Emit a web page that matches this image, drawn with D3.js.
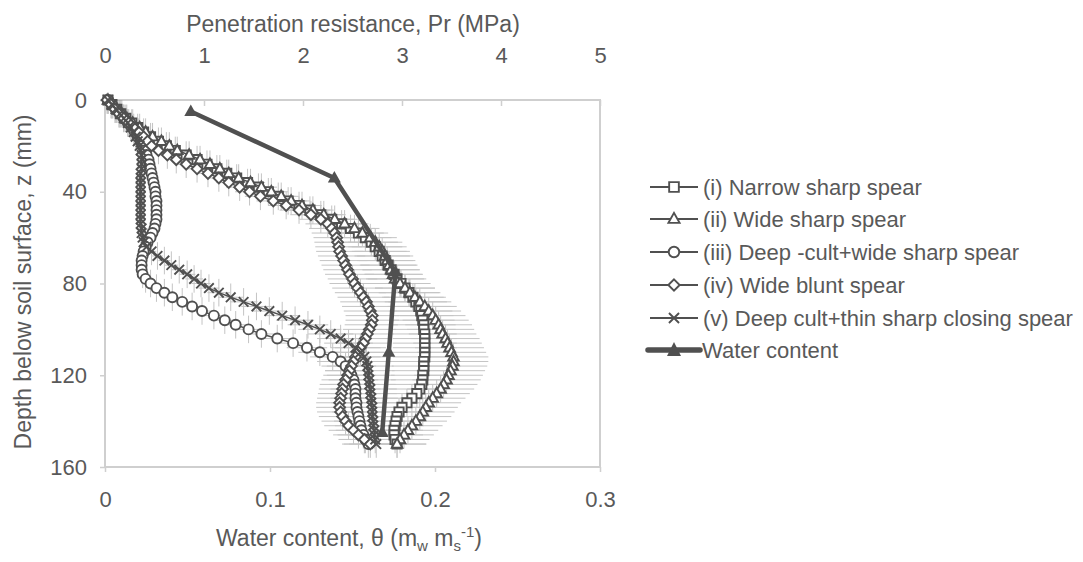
<!DOCTYPE html>
<html><head><meta charset="utf-8">
<script src="https://cdn.jsdelivr.net/npm/d3@7"></script>
<style>
body{margin:0;background:#fff}
svg{display:block}
text{font-family:"Liberation Sans",Arial,sans-serif;fill:#595959}
</style>
</head><body>
<svg id="c" width="1083" height="562"></svg>
<script>
// ---------- data ----------
const depth = [0,2,4,6,8,10,12,14,16,18,20,22,24,26,28,30,32,34,36,38,40,42,44,46,48,50,52,54,56,58,60,62,64,66,68,70,72,74,76,78,80,82,84,86,88,90,92,94,96,98,100,102,104,106,108,110,112,114,116,118,120,122,124,126,128,130,132,134,136,138,140,142,144,146,148,150];

const prNarrowSharp = [0.03,0.07,0.12,0.16,0.21,0.27,0.33,0.39,0.46,0.54,
0.62,0.71,0.82,0.93,1.03,1.13,1.23,1.33,1.44,1.55,
1.65,1.75,1.85,1.96,2.07,2.18,2.29,2.39,2.48,2.56,
2.63,2.69,2.73,2.77,2.80,2.83,2.86,2.89,2.92,2.95,
2.99,3.03,3.07,3.11,3.14,3.17,3.19,3.20,3.21,3.22,
3.22,3.23,3.23,3.23,3.23,3.23,3.23,3.22,3.22,3.22,
3.21,3.21,3.20,3.18,3.15,3.10,3.05,3.00,2.97,2.95,
2.94,2.93,2.92,2.92,2.93,2.95];

const prWideSharp = [0.03,0.08,0.12,0.17,0.22,0.28,0.35,0.41,0.48,0.57,
0.65,0.73,0.85,0.96,1.06,1.16,1.25,1.35,1.47,1.58,
1.68,1.78,1.88,1.99,2.10,2.21,2.32,2.42,2.52,2.60,
2.68,2.73,2.77,2.80,2.83,2.85,2.87,2.89,2.91,2.93,
2.98,3.03,3.08,3.13,3.18,3.23,3.27,3.31,3.34,3.37,
3.39,3.41,3.44,3.46,3.48,3.50,3.52,3.52,3.51,3.49,
3.47,3.45,3.42,3.39,3.35,3.31,3.27,3.24,3.21,3.18,
3.14,3.10,3.06,3.02,2.98,2.95];

const prDeepCultWide = [0.03,0.07,0.11,0.15,0.19,0.23,0.27,0.30,0.33,0.36,
0.38,0.40,0.42,0.44,0.45,0.46,0.47,0.48,0.49,0.50,
0.51,0.51,0.52,0.52,0.52,0.52,0.52,0.51,0.50,0.48,
0.46,0.43,0.41,0.39,0.38,0.37,0.37,0.37,0.38,0.41,
0.46,0.52,0.60,0.68,0.78,0.88,0.98,1.10,1.21,1.32,
1.45,1.58,1.74,1.90,2.04,2.17,2.30,2.38,2.43,2.47,
2.49,2.51,2.52,2.53,2.53,2.53,2.54,2.54,2.55,2.56,
2.57,2.58,2.59,2.61,2.63,2.66];

const prWideBlunt = [0.02,0.06,0.10,0.14,0.19,0.24,0.29,0.34,0.39,0.43,
0.47,0.54,0.63,0.72,0.82,0.93,1.04,1.15,1.25,1.36,
1.46,1.57,1.70,1.83,1.96,2.08,2.18,2.25,2.29,2.32,
2.34,2.35,2.36,2.37,2.39,2.41,2.43,2.45,2.47,2.50,
2.52,2.55,2.58,2.61,2.64,2.66,2.68,2.70,2.70,2.69,
2.67,2.65,2.63,2.61,2.58,2.56,2.53,2.51,2.49,2.47,
2.45,2.43,2.41,2.40,2.39,2.38,2.37,2.37,2.38,2.40,
2.43,2.46,2.51,2.56,2.62,2.68];

const prDeepCultThin = [0.03,0.07,0.11,0.15,0.19,0.23,0.26,0.29,0.31,0.33,
0.35,0.36,0.37,0.37,0.37,0.37,0.36,0.36,0.36,0.36,
0.36,0.36,0.36,0.36,0.36,0.36,0.36,0.36,0.37,0.37,
0.38,0.39,0.42,0.47,0.53,0.60,0.67,0.75,0.83,0.90,
0.97,1.05,1.15,1.27,1.40,1.53,1.66,1.79,1.92,2.05,
2.17,2.28,2.38,2.46,2.53,2.58,2.62,2.64,2.65,2.66,
2.66,2.67,2.67,2.68,2.68,2.69,2.69,2.70,2.70,2.70,
2.71,2.71,2.72,2.72,2.73,2.74];

const seriesNames = ["(i) Narrow sharp spear","(ii) Wide sharp spear","(iii) Deep -cult+wide sharp spear","(iv) Wide blunt spear","(v) Deep cult+thin sharp closing spear"];
const seriesMarkers = ["square","triangle","circle","diamond","cross"];
const prErrorFraction = [0.1,0.1,0.1,0.1,0.1];   // relative half-width of Pr error bars
const depthErrorHalf = [6,6,6,6,6];              // mm

const waterDepth = [5,34,75,110,145];
const waterTheta = [0.052,0.139,0.176,0.172,0.168];
const waterName = "Water content";

const prTicks = [0,1,2,3,4,5];
const thetaTicks = [0,0.1,0.2,0.3];
const depthTicks = [0,40,80,120,160];

// ---------- chart ----------
const svg = d3.select("#c");
const xPr = d3.scaleLinear().domain([0,5]).range([105,600]);
const xTh = d3.scaleLinear().domain([0,0.3]).range([105,600]);
const y = d3.scaleLinear().domain([0,160]).range([100,467]);

const INK = "#505050";
const AXIS = "#cfcfcf";

// frame
svg.append("rect").attr("x",xPr(0)).attr("y",y(0))
  .attr("width",xPr(5)-xPr(0)).attr("height",y(160)-y(0))
  .attr("fill","none").attr("stroke",AXIS).attr("stroke-width",2);

function styleAxis(g){
  g.select(".domain").remove();
  g.selectAll(".tick line").attr("stroke",AXIS).attr("stroke-width",1.5);
  g.selectAll(".tick text").attr("fill","#595959").style("font-size","22px")
   .style("font-family",'"Liberation Sans",Arial,sans-serif');
}
svg.append("g").attr("transform",`translate(0,${y(0)})`)
  .call(d3.axisTop(xPr).tickValues(prTicks).tickFormat(d3.format("d")).tickSizeInner(-6).tickSizeOuter(0).tickPadding(37))
  .call(styleAxis);
svg.append("g").attr("transform",`translate(0,${y(160)})`)
  .call(d3.axisBottom(xTh).tickValues(thetaTicks).tickFormat(d=>d===0?"0":d3.format(".1f")(d)).tickSizeInner(5).tickSizeOuter(0).tickPadding(19))
  .call(styleAxis);
svg.append("g").attr("transform",`translate(${xPr(0)},0)`)
  .call(d3.axisLeft(y).tickValues(depthTicks).tickSizeInner(5).tickSizeOuter(0).tickPadding(13))
  .call(styleAxis);

// titles
svg.append("text").attr("x",353).attr("y",32).attr("text-anchor","middle")
  .style("font-size","23px").text("Penetration resistance, Pr (MPa)");
const bt = svg.append("text").attr("x",349).attr("y",546).attr("text-anchor","middle").style("font-size","23px");
bt.append("tspan").text("Water content, θ (m");
bt.append("tspan").attr("dy",5).style("font-size","15px").text("w");
bt.append("tspan").attr("dy",-5).text(" m");
bt.append("tspan").attr("dy",5).style("font-size","15px").text("s");
bt.append("tspan").attr("dy",-14).style("font-size","15px").text("-1");
bt.append("tspan").attr("dy",9).text(")");
svg.append("text").attr("transform","translate(31,282) rotate(-90)").attr("text-anchor","middle")
  .style("font-size","23px").text("Depth below soil surface, z (mm)");

// markers
function drawMarker(g, type, cx, cy, s){
  s = s||1;
  if(type==="circle"){
    g.append("circle").attr("cx",cx).attr("cy",cy).attr("r",5*s)
      .attr("fill","#fff").attr("stroke",INK).attr("stroke-width",1.9);
    return;
  }
  let p;
  if(type==="square") p=`M${-4.6*s},${-4.6*s}h${9.2*s}v${9.2*s}h${-9.2*s}Z`;
  if(type==="triangle") p=`M0,${-5.8*s}L${5.3*s},${3.7*s}L${-5.3*s},${3.7*s}Z`;
  if(type==="diamond") p=`M0,${-5.4*s}L${5.4*s},0L0,${5.4*s}L${-5.4*s},0Z`;
  if(type==="cross") p=`M${-4.8*s},${-4.8*s}L${4.8*s},${4.8*s}M${-4.8*s},${4.8*s}L${4.8*s},${-4.8*s}`;
  g.append("path").attr("d",p).attr("transform",`translate(${cx},${cy})`)
    .attr("fill",type==="cross"?"none":"#fff").attr("stroke",INK).attr("stroke-width",1.9);
}

const allSeries = [prNarrowSharp,prWideSharp,prDeepCultWide,prWideBlunt,prDeepCultThin];

// error bars first
const eg = svg.append("g").attr("stroke","#8c8c8c").attr("stroke-width",1).attr("opacity",0.5);
allSeries.forEach((vals,si)=>{
  vals.forEach((v,i)=>{
    const z = depth[i];
    const e = v*prErrorFraction[si];
    eg.append("line").attr("x1",xPr(v-e)).attr("x2",xPr(v+e))
      .attr("y1",y(z)).attr("y2",y(z));
    eg.append("line").attr("x1",xPr(v)).attr("x2",xPr(v))
      .attr("y1",y(Math.max(0,z-depthErrorHalf[si]))).attr("y2",y(z+depthErrorHalf[si]));
  });
});

const line = d3.line().x(d=>xPr(d[1])).y(d=>y(d[0]));
allSeries.forEach((vals,si)=>{
  const g = svg.append("g");
  const pts = vals.map((v,i)=>[depth[i],v]);
  g.append("path").attr("d",line(pts)).attr("fill","none").attr("stroke",INK).attr("stroke-width",1.5);
  pts.forEach(p=>drawMarker(g,seriesMarkers[si],xPr(p[1]),y(p[0])));
});

// water content
const wpts = waterDepth.map((d,i)=>[d,waterTheta[i]]);
const wline = d3.line().x(d=>xTh(d[1])).y(d=>y(d[0]));
svg.append("path").attr("d",wline(wpts)).attr("fill","none").attr("stroke",INK).attr("stroke-width",4.5).attr("stroke-linejoin","round");
wpts.forEach(p=>{
  svg.append("path").attr("d","M0,-7L6.5,4.5L-6.5,4.5Z").attr("transform",`translate(${xTh(p[1])},${y(p[0])})`).attr("fill",INK);
});

// legend
const legY = [187,219,252,285,318,350];
seriesNames.forEach((n,i)=>{
  const g = svg.append("g");
  g.append("line").attr("x1",650).attr("x2",698).attr("y1",legY[i]).attr("y2",legY[i]).attr("stroke",INK).attr("stroke-width",1.8);
  drawMarker(g,seriesMarkers[i],674,legY[i],1.05);
  g.append("text").attr("x",703).attr("y",legY[i]+8).style("font-size","22px").text(n);
});
{
  const g = svg.append("g");
  g.append("line").attr("x1",648).attr("x2",700).attr("y1",legY[5]).attr("y2",legY[5]).attr("stroke",INK).attr("stroke-width",5.5).attr("stroke-linecap","round");
  g.append("path").attr("d","M0,-8L7,6L-7,6Z").attr("transform",`translate(674,${legY[5]})`).attr("fill",INK);
  g.append("text").attr("x",702).attr("y",legY[5]+8).style("font-size","22px").text(waterName);
}
</script>
</body></html>
